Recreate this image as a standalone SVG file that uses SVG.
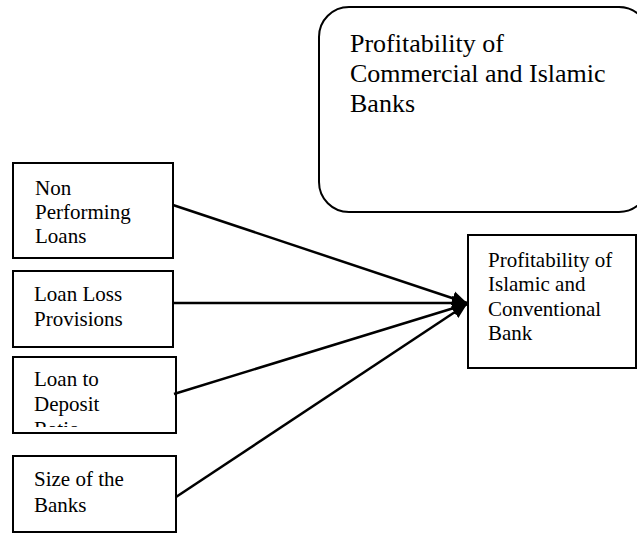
<svg xmlns="http://www.w3.org/2000/svg" width="637" height="533" viewBox="0 0 637 533">
<style>
.box{fill:#fff;stroke:#000;stroke-width:2}
.t{font-size:21px;fill:#000}
.tb{font-size:26px;fill:#000}
.c{stroke:#000;stroke-width:2.5;fill:none;marker-end:url(#ah)}
</style>
<defs>
<marker id="ah" markerUnits="userSpaceOnUse" markerWidth="16" markerHeight="16" refX="15" refY="8" orient="auto">
<path d="M0,1 L15,8 L0,15 Z" fill="#000"/>
</marker>
<clipPath id="clip3"><rect x="14" y="358" width="161" height="69"/></clipPath>
</defs>
<rect width="637" height="533" fill="#fff"/>
<g id="top-box" font-family="Liberation Serif, Times New Roman, DejaVu Serif, serif">
<rect class="box" x="319" y="7" width="330" height="205" rx="30" ry="30"/>
<text class="tb" x="350" y="52">Profitability of</text>
<text class="tb" x="350" y="82">Commercial and Islamic</text>
<text class="tb" x="350" y="112">Banks</text>
</g>
<g id="npl" font-family="Liberation Serif, Times New Roman, DejaVu Serif, serif">
<rect class="box" x="13" y="163" width="160" height="95"/>
<text class="t" x="35" y="195">Non</text>
<text class="t" x="35" y="219">Performing</text>
<text class="t" x="35" y="243">Loans</text>
</g>
<g id="llp" font-family="Liberation Serif, Times New Roman, DejaVu Serif, serif">
<rect class="box" x="13" y="271" width="160" height="76"/>
<text class="t" x="34" y="301">Loan Loss</text>
<text class="t" x="34" y="326">Provisions</text>
</g>
<g id="ldr" font-family="Liberation Serif, Times New Roman, DejaVu Serif, serif">
<rect class="box" x="13" y="357" width="163" height="76"/>
<g clip-path="url(#clip3)">
<text class="t" x="34" y="386">Loan to</text>
<text class="t" x="34" y="411">Deposit</text>
<text class="t" x="34" y="436">Ratio</text>
</g>
</g>
<g id="size" font-family="Liberation Serif, Times New Roman, DejaVu Serif, serif">
<rect class="box" x="13" y="456" width="163" height="76"/>
<text class="t" x="34" y="486">Size of the</text>
<text class="t" x="34" y="512">Banks</text>
</g>
<g id="profit" font-family="Liberation Serif, Times New Roman, DejaVu Serif, serif">
<rect class="box" x="468" y="235" width="168" height="133"/>
<text class="t" x="488" y="267">Profitability of</text>
<text class="t" x="488" y="291">Islamic and</text>
<text class="t" x="488" y="316">Conventional</text>
<text class="t" x="488" y="340">Bank</text>
</g>
<g id="connectors">
<line class="c" x1="173" y1="205" x2="467" y2="303"/>
<line class="c" x1="173" y1="303" x2="467" y2="303"/>
<line class="c" x1="174" y1="394" x2="467" y2="304"/>
<line class="c" x1="176" y1="497" x2="467" y2="304"/>
</g>
</svg>
